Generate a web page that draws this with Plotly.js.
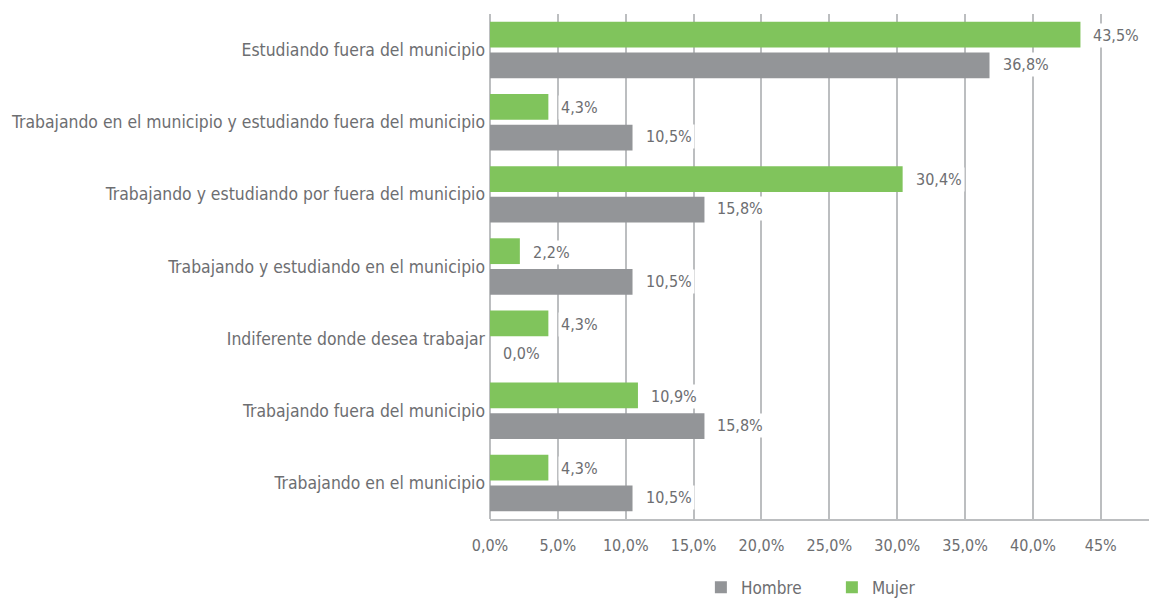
<!DOCTYPE html>
<html>
<head>
<meta charset="utf-8">
<script src="https://cdn.plot.ly/plotly-3.0.1.min.js"></script>
<style>
  html, body { margin: 0; padding: 0; background: #fff; }
  #chart { width: 1149px; height: 599px; }
</style>
</head>
<body>
<div id="chart"></div>
<script>
// categories, top to bottom as in the picture
const categories = [
    'Estudiando fuera del municipio',
    'Trabajando en el municipio y estudiando fuera del municipio',
    'Trabajando y estudiando por fuera del municipio',
    'Trabajando y estudiando en el municipio',
    'Indiferente donde desea trabajar',
    'Trabajando fuera del municipio',
    'Trabajando en el municipio'
];
const hombre = [36.8, 10.5, 15.8, 10.5, 0.0, 15.8, 10.5];
const mujer = [43.5, 4.3, 30.4, 2.2, 4.3, 10.9, 4.3];

const tickValues = [0, 5, 10, 15, 20, 25, 30, 35, 40, 45];
const tickLabels = ['0,0%', '5,0%', '10,0%', '15,0%', '20,0%', '25,0%', '30,0%', '35,0%', '40,0%', '45%'];

const FONT = '"DejaVu Sans Condensed", "Liberation Sans Narrow", Arial, sans-serif';
const TEXT = '#6d6e71';
const GRID = '#bcbec0';
const GREY = '#939598';
const GREEN = '#80c45c';

const fmt = v => v.toFixed(1).replace('.', ',') + '%';

const traces = [
    { type: 'bar', orientation: 'h', name: 'Hombre', y: categories, x: hombre,
      marker: { color: GREY }, hoverinfo: 'skip' },
    { type: 'bar', orientation: 'h', name: 'Mujer', y: categories, x: mujer,
      marker: { color: GREEN }, hoverinfo: 'skip' }
];

// value labels with a white box, so the grid is cut behind them
const labels = [];
categories.forEach((c, i) => {
    labels.push({ x: mujer[i], y: c, text: fmt(mujer[i]), yshift: 14.5 });
    labels.push({ x: hombre[i], y: c, text: fmt(hombre[i]), yshift: -14.5 });
});
const annotations = labels.map(l => Object.assign(l, {
    xref: 'x', yref: 'y', xanchor: 'left', yanchor: 'middle',
    xshift: 10, showarrow: false, bgcolor: '#ffffff', borderpad: 2,
    font: { family: FONT, size: 16, color: TEXT }
}));

const layout = {
    width: 1149, height: 599,
    margin: { l: 490, r: 0, t: 14, b: 80, autoexpand: false },
    paper_bgcolor: '#fff', plot_bgcolor: '#fff',
    barmode: 'group', bargap: 0.15, bargroupgap: 0.16,
    font: { family: FONT, size: 17, color: TEXT },
    showlegend: true,
    legend: { orientation: 'h', x: 0.32, xanchor: 'left', y: -0.136, yanchor: 'middle',
              entrywidth: 86, entrywidthmode: 'pixels',
              font: { family: FONT, size: 17, color: TEXT } },
    xaxis: {
        range: [0, 48.55], tickvals: tickValues, ticktext: tickLabels,
        showgrid: true, gridcolor: GRID, gridwidth: 2,
        zeroline: true, zerolinecolor: GRID, zerolinewidth: 2,
        showline: true, linecolor: GRID, linewidth: 2,
        ticks: '', ticklabelstandoff: 11,
        tickfont: { family: FONT, size: 16, color: TEXT }
    },
    yaxis: {
        type: 'category', categoryorder: 'array', categoryarray: categories.slice().reverse(),
        showgrid: false, zeroline: false, showline: false, ticks: '',
        ticklabelstandoff: 4,
        tickfont: { family: FONT, size: 17.4, color: TEXT }
    },
    annotations: annotations
};

Plotly.newPlot('chart', traces, layout, { displayModeBar: false, staticPlot: true });
</script>
</body>
</html>
